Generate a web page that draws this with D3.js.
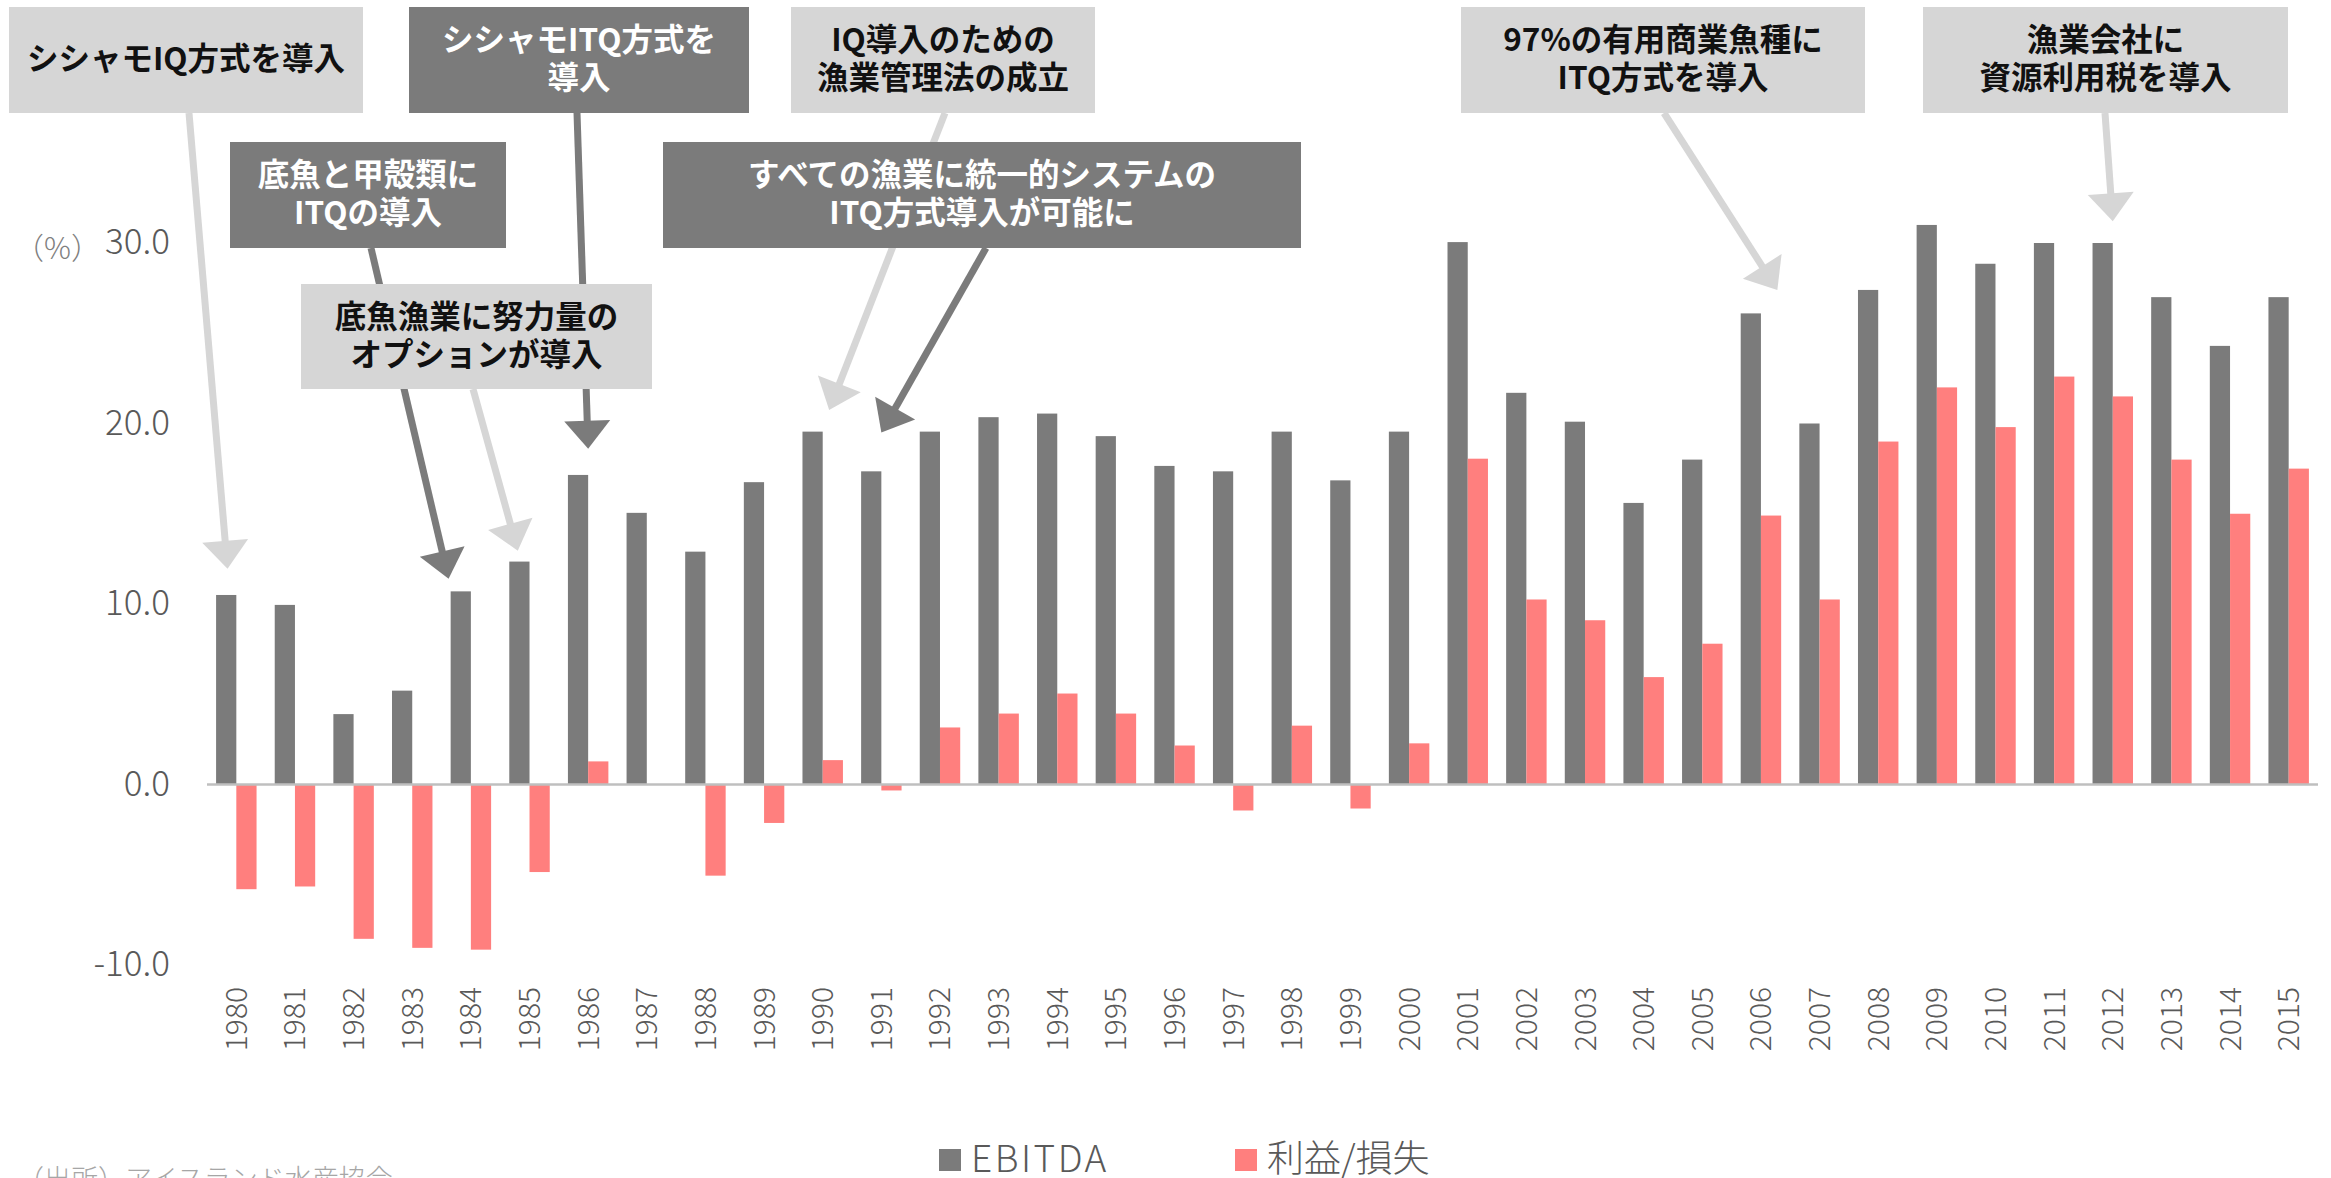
<!DOCTYPE html>
<html>
<head>
<meta charset="utf-8">
<script src="https://cdn.jsdelivr.net/npm/d3@7"></script>
<style>
  body { margin: 0; background: #ffffff; }
  svg { display: block; }
</style>
</head>
<body>
<div id="viz-container"></div>
<script>
let w = 2331;
let h = 1178;

// data (%)
const years = ["1980","1981","1982","1983","1984","1985","1986","1987","1988","1989",
               "1990","1991","1992","1993","1994","1995","1996","1997","1998","1999",
               "2000","2001","2002","2003","2004","2005","2006","2007","2008","2009",
               "2010","2011","2012","2013","2014","2015"];
const ebitda = [10.5, 9.95, 3.9, 5.2, 10.7, 12.35, 17.15, 15.05, 12.9, 16.75,
                19.55, 17.35, 19.55, 20.35, 20.55, 19.3, 17.65, 17.35, 19.55, 16.85,
                19.55, 30.05, 21.7, 20.1, 15.6, 18.0, 26.1, 20.0, 27.4, 31.0,
                28.85, 30.0, 30.0, 27.0, 24.3, 27.0];
const profit = [-5.8, -5.65, -8.55, -9.05, -9.15, -4.85, 1.28, 0, -5.05, -2.13,
                1.35, -0.33, 3.16, 3.93, 5.04, 3.93, 2.16, -1.44, 3.26, -1.33,
                2.28, 18.05, 10.25, 9.1, 5.95, 7.8, 14.9, 10.25, 19.0, 22.0,
                19.8, 22.6, 21.5, 18.0, 15.0, 17.5];
const yTicks = [-10, 0, 10, 20, 30];
const seriesNames = ["EBITDA", "利益/損失"];

// annotations: text lines, dark or light, where the arrow points (year, value)
const annoLines = [
  ["シシャモIQ方式を導入"],
  ["シシャモITQ方式を", "導入"],
  ["底魚と甲殻類に", "ITQの導入"],
  ["底魚漁業に努力量の", "オプションが導入"],
  ["IQ導入のための", "漁業管理法の成立"],
  ["すべての漁業に統一的システムの", "ITQ方式導入が可能に"],
  ["97%の有用商業魚種に", "ITQ方式を導入"],
  ["漁業会社に", "資源利用税を導入"]
];
const annoDark = [false, true, true, false, false, true, false, false];
const annoTipYear = [1979.85, 1986, 1983.62, 1984.8, 1990.11, 1991, 2006.28, 2012];
const annoTipValue = [11.95, 18.6, 11.4, 12.95, 20.75, 19.5, 27.4, 31.2];

// box layout [x0, y0, x1, y1, arrow start x]
const boxLayout = [
  [9, 7, 363, 113, 189],
  [409, 7, 749, 113, 577],
  [230, 142, 506, 248, 371],
  [301, 284, 652, 389, 473],
  [791, 7, 1095, 113, 945],
  [663, 142, 1301, 248, 986],
  [1461, 7, 1865, 113, 1664],
  [1923, 7, 2288, 113, 2105]
];

const colEbitda = "#7b7b7b";
const colProfit = "#ff7f7e";
const colLight = "#d6d6d6";
const colDark = "#7b7b7b";
const fontJP = "'Noto Sans CJK JP', 'Noto Sans', sans-serif";

let viz = d3.select("#viz-container")
            .append("svg")
            .attr("width", w)
            .attr("height", h)
            .style("background-color", "#ffffff");

let x = d3.scaleBand().domain(years).range([207, 2318]).paddingInner(0.31).paddingOuter(0.155);
let y = d3.scaleLinear().domain([-10, 30]).range([965, 243]);
let bw = x.bandwidth() / 2;

// bars
let rows = years.map((yr, i) => ({year: yr, e: ebitda[i], p: profit[i]}));
viz.selectAll(".ebitda").data(rows).enter().append("rect")
   .attr("class", "ebitda")
   .attr("x", d => x(d.year))
   .attr("y", d => y(Math.max(0, d.e)))
   .attr("width", bw)
   .attr("height", d => Math.abs(y(d.e) - y(0)))
   .attr("fill", colEbitda);
viz.selectAll(".profit").data(rows).enter().append("rect")
   .attr("class", "profit")
   .attr("x", d => x(d.year) + bw)
   .attr("y", d => y(Math.max(0, d.p)))
   .attr("width", bw)
   .attr("height", d => Math.abs(y(d.p) - y(0)))
   .attr("fill", colProfit);

// zero line
viz.append("line")
   .attr("x1", x.range()[0]).attr("x2", x.range()[1])
   .attr("y1", y(0)).attr("y2", y(0))
   .attr("stroke", "#bfbfbf").attr("stroke-width", 2.5);

// y axis (plain hyphen for the minus)
let fmt = d3.formatLocale({decimal: ".", thousands: ",", grouping: [3], currency: ["", ""], minus: "-"}).format(".1f");
let yAxis = viz.append("g")
   .attr("transform", `translate(${x.range()[0]},0)`)
   .call(d3.axisLeft(y).tickValues(yTicks).tickFormat(fmt).tickSize(0).tickPadding(37));
yAxis.select(".domain").remove();
yAxis.selectAll("text")
   .attr("dy", "0.3em")
   .style("font-family", fontJP)
   .style("font-weight", 300)
   .style("font-size", "35px")
   .attr("fill", "#595959");

viz.append("text")
   .text("（%）")
   .attr("x", 14).attr("y", 259)
   .style("font-family", fontJP)
   .style("font-weight", 300)
   .style("font-size", "30px")
   .attr("fill", "#7f7f7f");

// x axis, rotated years
let xAxis = viz.append("g")
   .attr("transform", "translate(0,987)")
   .call(d3.axisBottom(x).tickSize(0));
xAxis.select(".domain").remove();
xAxis.selectAll("text")
   .attr("x", 0).attr("y", 0).attr("dy", "0.35em")
   .attr("transform", "rotate(-90)")
   .style("text-anchor", "end")
   .style("font-family", fontJP)
   .style("font-weight", 300)
   .style("font-size", "30px")
   .attr("fill", "#595959");

// arrows first, boxes drawn over them
function tipX(yr) {
  let base = Math.round(yr);
  return x(String(base)) + x.bandwidth() / 2 + (yr - base) * x.step();
}
boxLayout.forEach((b, i) => {
  let col = annoDark[i] ? colDark : colLight;
  let sx = b[4], sy = b[3];
  let tx = tipX(annoTipYear[i]), ty = y(annoTipValue[i]);
  let dx = tx - sx, dy = ty - sy;
  let len = Math.sqrt(dx * dx + dy * dy);
  let ux = dx / len, uy = dy / len;
  let headL = 28, headW = 23;
  let bx = tx - ux * headL, by = ty - uy * headL;
  viz.append("line")
     .attr("x1", sx).attr("y1", sy)
     .attr("x2", bx + ux * 2).attr("y2", by + uy * 2)
     .attr("stroke", col).attr("stroke-width", 7);
  viz.append("polygon")
     .attr("points", [[tx, ty], [bx - uy * headW, by + ux * headW], [bx + uy * headW, by - ux * headW]]
       .map(p => p.join(",")).join(" "))
     .attr("fill", col);
});

boxLayout.forEach((b, i) => {
  let g = viz.append("g");
  g.append("rect")
   .attr("x", b[0]).attr("y", b[1])
   .attr("width", b[2] - b[0]).attr("height", b[3] - b[1])
   .attr("fill", annoDark[i] ? colDark : colLight);
  let lines = annoLines[i];
  let cy = (b[1] + b[3]) / 2;
  let lh = 38;
  lines.forEach((t, j) => {
    g.append("text")
     .text(t)
     .attr("x", (b[0] + b[2]) / 2)
     .attr("y", cy + (j - (lines.length - 1) / 2) * lh - 1)
     .attr("dy", "0.36em")
     .attr("text-anchor", "middle")
     .style("font-family", fontJP)
     .style("font-weight", 700)
     .style("font-size", "31.5px")
     .attr("fill", annoDark[i] ? "#ffffff" : "#111111");
  });
});

// legend
let legendX = [939, 1235];
let legendCol = [colEbitda, colProfit];
let legendSpacing = [2.5, 0];
seriesNames.forEach((s, i) => {
  viz.append("rect")
     .attr("x", legendX[i]).attr("y", 1149)
     .attr("width", 22).attr("height", 22)
     .attr("fill", legendCol[i]);
  viz.append("text")
     .text(s)
     .attr("x", legendX[i] + 32).attr("y", 1172)
     .style("font-family", fontJP)
     .style("font-weight", 300)
     .style("font-size", "37px")
     .style("letter-spacing", legendSpacing[i] + "px")
     .attr("fill", "#595959");
});

// source
viz.append("text")
   .text("（出所）アイスランド水産協会")
   .attr("x", 17).attr("y", 1189)
   .style("font-family", fontJP)
   .style("font-weight", 300)
   .style("font-size", "27px")
   .attr("fill", "#a6a6a6");
</script>
</body>
</html>
